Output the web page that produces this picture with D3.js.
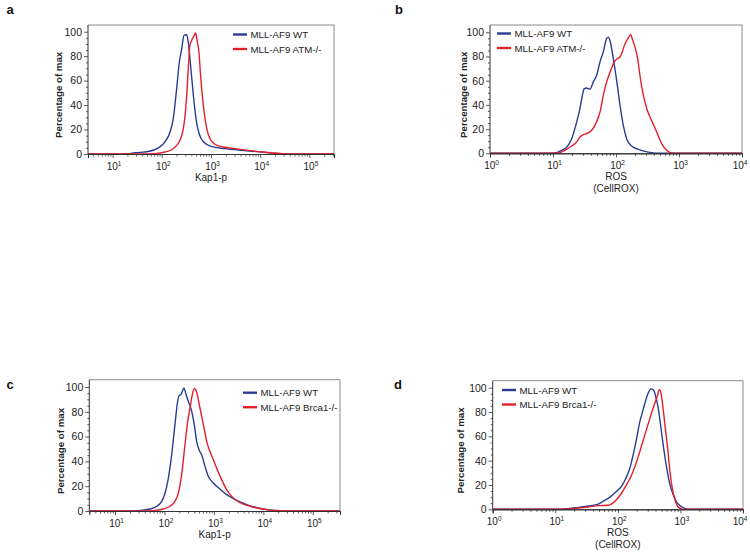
<!DOCTYPE html>
<html><head><meta charset="utf-8">
<script src="https://cdn.jsdelivr.net/npm/d3@7"></script>
<style>
body{margin:0;background:#fff}
svg{display:block;font-family:"Liberation Sans",Arial,Helvetica,sans-serif}
</style>
</head><body>
<svg id="chart" width="750" height="558"></svg>
<script>
// ---------- data ----------
const yTickValues = [0, 20, 40, 60, 80, 100];
const kapTickValues = [1e1, 1e2, 1e3, 1e4, 1e5];
const rosTickValues = [1e0, 1e1, 1e2, 1e3, 1e4];
const kapExponents = ["1", "2", "3", "4", "5"];
const rosExponents = ["0", "1", "2", "3", "4"];
const panelLetters = ["a", "b", "c", "d"];
const legendATM = ["MLL-AF9 WT", "MLL-AF9 ATM-/-"];
const legendBrca = ["MLL-AF9 WT", "MLL-AF9 Brca1-/-"];
const xTitleKap = ["Kap1-p"];
const xTitleROS = ["ROS", "(CellROX)"];
const yTitle = "Percentage of max";

// panel a: Kap1-p, WT vs ATM-/-
const aWT_x = [3, 10, 20, 28.5, 53, 85, 116, 147, 171, 200, 227, 254, 282, 321, 346, 386, 438, 495, 570, 698, 1033, 1928, 4207, 10715, 19953, 31623, 320000];
const aWT_y = [0, 0, 0.2, 1, 2, 5, 10, 18, 29, 53, 75, 86, 97, 97.5, 91, 72, 48, 29, 17, 10, 6, 4.4, 3, 1.6, 0.5, 0, 0];
const aATM_x = [3, 30, 73, 116, 159, 200, 254, 287, 321, 346, 374, 405, 458, 489, 527, 570, 607, 647, 711, 818, 955, 1205, 1778, 3076, 5728, 10715, 19953, 37239, 320000];
const aATM_y = [0, 0, 0.3, 1.6, 3.5, 7, 15, 26, 48, 70, 89, 93, 97, 99, 91.6, 83, 67, 53, 37, 21, 12.5, 8, 5.7, 4.4, 3, 1.6, 0.8, 0, 0];

// panel b: ROS, WT vs ATM-/-
const bWT_x = [1, 8, 10.8, 13.7, 16.5, 19.8, 23.8, 26.8, 29.3, 31.4, 34.2, 38.7, 43.6, 49.3, 55.7, 63, 71.1, 75.5, 81.3, 90.7, 102.6, 115.7, 130.6, 147.6, 177, 226, 288, 368, 470, 10000];
const bWT_y = [0, 0, 0.3, 2.5, 5, 12, 26, 37, 48, 53.4, 54, 53, 59, 64.5, 75.5, 84, 95, 96, 92, 78, 60, 40, 23, 12, 6, 3.3, 1.6, 0.5, 0, 0];
const bATM_x = [1, 9, 12.2, 15.5, 19.8, 23.8, 26.8, 30.3, 34.2, 41.1, 49.3, 55.7, 63, 71.1, 80.3, 90.7, 102.6, 115.7, 126, 139, 157, 171, 184, 200, 221, 240, 265, 307, 368, 443, 531, 637, 766, 919, 10000];
const bATM_y = [0, 0, 0.3, 2.5, 6, 9.4, 13.5, 15.4, 16.3, 19, 26, 34, 48, 59, 67, 74, 78, 79.6, 84, 90.6, 95.3, 98, 93.4, 88, 78, 64.5, 50.7, 37, 27, 17.6, 8, 2.5, 0.3, 0, 0];

// panel c: Kap1-p, WT vs Brca1-/-
const cWT_x = [3, 15, 32, 51, 70, 88, 103, 120, 140, 163, 185, 200, 216, 230, 248, 269, 303, 356, 401, 449, 499, 566, 661, 769, 972, 1327, 1811, 2468, 3365, 4603, 6776, 9977, 15886, 25293, 350000];
const cWT_y = [0, 0, 0.5, 1.6, 3.8, 7.8, 14.5, 26.6, 45.4, 69.6, 88.4, 93.3, 93.8, 96.5, 99.2, 95, 88.4, 80.4, 69.6, 56, 49.5, 45.4, 36, 28, 22.6, 17.7, 13.2, 10, 7.3, 5.1, 3, 1.6, 0.5, 0, 0];
const cBrca_x = [3, 25, 59, 95, 129, 163, 191, 223, 260, 295, 328, 366, 401, 428, 462, 506, 566, 631, 715, 834, 972, 1170, 1436, 1811, 2291, 2891, 3926, 5370, 7907, 11668, 21727, 34594, 350000];
const cBrca_y = [0, 0, 0.3, 1.6, 3.8, 7.8, 14.5, 29.3, 53.5, 72.3, 83, 93.8, 98.7, 97.8, 93.8, 85.8, 76.3, 67, 56, 48, 41.4, 33.3, 25.3, 17.2, 11.8, 8.3, 5.6, 3.8, 2.2, 1.1, 0.3, 0, 0];

// panel d: ROS, WT vs Brca1-/-
const dWT_x = [1, 9.9, 16, 23.3, 33.7, 45.8, 58.5, 74.8, 95.7, 115, 135, 156, 176, 200, 225, 249, 271, 306, 338, 368, 402, 442, 489, 539, 603, 680, 767, 869, 1019, 1180, 1419, 10000];
const dWT_y = [0, 0, 0.5, 1.6, 2.7, 3.8, 6.6, 10, 14.8, 19, 25.8, 34, 45, 58.6, 72.3, 80.5, 87.4, 95.6, 99, 98.4, 93, 83.3, 66.8, 50.4, 34, 20.3, 12, 6, 2.5, 0.8, 0, 0];
const dBrca_x = [1, 10, 20.6, 33.7, 48.6, 70.3, 79.6, 95.7, 115, 138, 162, 188, 225, 271, 326, 382, 427, 459, 489, 520, 565, 624, 680, 740, 817, 902, 1019, 1180, 10000];
const dBrca_y = [0, 0, 0.8, 1.9, 3, 3.3, 4.4, 8, 13.4, 20.3, 27, 35.3, 47.7, 61.4, 75, 86, 93, 98.4, 95.6, 86, 69.6, 50.4, 31.2, 17.5, 8, 2.5, 0.5, 0, 0];

// ---------- styles ----------
const BLUE = "#2a3d96";
const RED = "#e41f2b";
const AXIS = "#333";
const FRAME = "#8a8a8a";

const panels = [
  { letter: panelLetters[0], lx: 10, ly: 14, left: 88, right: 334, top: 25, y0: 154, y100: 31.7,
    xDomain: [Math.pow(10, 0.5), Math.pow(10, 5.5)], ticks: kapTickValues, exps: kapExponents,
    xTitle: xTitleKap, yTitleX: 58, legend: legendATM, legX: 233, legY: 34.5,
    series: [[aWT_x, aWT_y, BLUE], [aATM_x, aATM_y, RED]] },
  { letter: panelLetters[1], lx: 399, ly: 14, left: 490, right: 742, top: 25, y0: 153.3, y100: 32.3,
    xDomain: [1, 1e4], ticks: rosTickValues, exps: rosExponents,
    xTitle: xTitleROS, yTitleX: 463, legend: legendATM, legX: 497, legY: 33.5,
    series: [[bWT_x, bWT_y, BLUE], [bATM_x, bATM_y, RED]] },
  { letter: panelLetters[2], lx: 10, ly: 389, left: 89.3, right: 340, top: 379.7, y0: 511, y100: 387,
    xDomain: [Math.pow(10, 0.48), Math.pow(10, 5.55)], ticks: kapTickValues, exps: kapExponents,
    xTitle: xTitleKap, yTitleX: 60, legend: legendBrca, legX: 243, legY: 392.7,
    series: [[cWT_x, cWT_y, BLUE], [cBrca_x, cBrca_y, RED]] },
  { letter: panelLetters[3], lx: 398, ly: 389, left: 492.7, right: 743, top: 380.7, y0: 509.3, y100: 387.7,
    xDomain: [1, 1e4], ticks: rosTickValues, exps: rosExponents,
    xTitle: xTitleROS, yTitleX: 460, legend: legendBrca, legX: 502, legY: 390,
    series: [[dWT_x, dWT_y, BLUE], [dBrca_x, dBrca_y, RED]] }
];

const svg = d3.select("#chart");

panels.forEach((p, i) => {
  const g = svg.append("g");
  const x = d3.scaleLog().domain(p.xDomain).range([p.left, p.right]);
  const y = d3.scaleLinear().domain([0, 100]).range([p.y0, p.y100]);

  // panel letter
  g.append("text").attr("x", p.lx).attr("y", p.ly).attr("text-anchor", "middle")
    .attr("font-size", 13).attr("font-weight", "bold").attr("fill", "#111").text(p.letter);

  // frame (top & right)
  g.append("path")
    .attr("d", `M${p.left},${p.top}H${p.right}V${p.y0}`)
    .attr("fill", "none").attr("stroke", FRAME).attr("stroke-width", 1);

  // clip
  const clipId = "clip" + i;
  svg.append("clipPath").attr("id", clipId).append("rect")
    .attr("x", p.left).attr("y", p.top).attr("width", p.right - p.left).attr("height", p.y0 - p.top + 1);

  // lines
  const line = d3.line().x(d => x(d[0])).y(d => y(d[1])).curve(d3.curveMonotoneX);
  p.series.forEach(([xs, ys, col]) => {
    const pts = xs.map((v, k) => [v, ys[k]]);
    g.append("path").attr("clip-path", `url(#${clipId})`)
      .attr("d", line(pts)).attr("fill", "none").attr("stroke", col)
      .attr("stroke-width", 1.4).attr("stroke-linejoin", "round");
  });

  // x axis
  const lo = Math.log10(p.xDomain[0]), hi = Math.log10(p.xDomain[1]);
  const minors = [];
  for (let e = Math.floor(lo); e <= Math.ceil(hi); e++) {
    for (let m = 2; m <= 9; m++) {
      const v = m * Math.pow(10, e);
      if (v >= p.xDomain[0] && v <= p.xDomain[1]) minors.push(v);
    }
  }
  const xAxisMinor = d3.axisBottom(x).tickValues(minors).tickSize(2.5).tickFormat("");
  const xAxisMajor = d3.axisBottom(x).tickValues(p.ticks).tickSize(4).tickFormat("");
  const gxm = g.append("g").attr("transform", `translate(0,${p.y0})`).call(xAxisMinor);
  const gx = g.append("g").attr("transform", `translate(0,${p.y0})`).call(xAxisMajor);
  [gxm, gx].forEach(a => {
    a.select(".domain").attr("stroke", AXIS).attr("stroke-width", 1);
    a.selectAll(".tick line").attr("stroke", AXIS).attr("stroke-width", 0.8);
  });
  p.ticks.forEach((t, k) => {
    const lxPos = Math.min(x(t) + 1.5, 740);
    const tx = g.append("text").attr("x", lxPos).attr("y", p.y0 + 15.5)
      .attr("text-anchor", "middle").attr("font-size", 10).attr("fill", "#222");
    tx.append("tspan").text("10");
    tx.append("tspan").attr("dy", -4).attr("font-size", 6.5).text(p.exps[k]);
  });

  // y axis
  const yMinor = d3.range(0, 101, 5).filter(v => v % 20 !== 0);
  const gym = g.append("g").attr("transform", `translate(${p.left},0)`)
    .call(d3.axisLeft(y).tickValues(yMinor).tickSize(2).tickFormat(""));
  const gy = g.append("g").attr("transform", `translate(${p.left},0)`)
    .call(d3.axisLeft(y).tickValues(yTickValues).tickSize(4).tickPadding(2));
  gym.select(".domain").remove();
  gym.selectAll(".tick line").attr("stroke", AXIS).attr("stroke-width", 0.8);
  gy.select(".domain").attr("stroke", AXIS).attr("stroke-width", 1)
    .attr("d", `M0,${p.top}V${p.y0}`);
  gy.selectAll(".tick line").attr("stroke", AXIS).attr("stroke-width", 0.8);
  gy.selectAll(".tick text").attr("font-size", 10.5).attr("fill", "#222")
    .attr("font-family", "Liberation Sans, Arial, sans-serif");

  // axis titles
  const cx = (p.left + p.right) / 2;
  p.xTitle.forEach((t, k) => {
    g.append("text").attr("x", cx).attr("y", p.y0 + 27 + k * 12)
      .attr("text-anchor", "middle").attr("font-size", 10).attr("fill", "#222").text(t);
  });
  const cy = (p.y0 + p.y100) / 2 + 2;
  g.append("text").attr("transform", `translate(${p.yTitleX + 3.5},${cy}) rotate(-90)`)
    .attr("text-anchor", "middle").attr("font-size", 9.7).attr("font-weight", "bold")
    .attr("fill", "#222").text(yTitle);

  // legend
  p.legend.forEach((t, k) => {
    const ly = p.legY + k * 14.5;
    g.append("line").attr("x1", p.legX).attr("x2", p.legX + 14).attr("y1", ly).attr("y2", ly)
      .attr("stroke", p.series[k][2]).attr("stroke-width", 2.4);
    g.append("text").attr("x", p.legX + 17.5).attr("y", ly + 3.5).attr("font-size", 9.7)
      .attr("fill", "#222").text(t);
  });
});
</script>
</body></html>
